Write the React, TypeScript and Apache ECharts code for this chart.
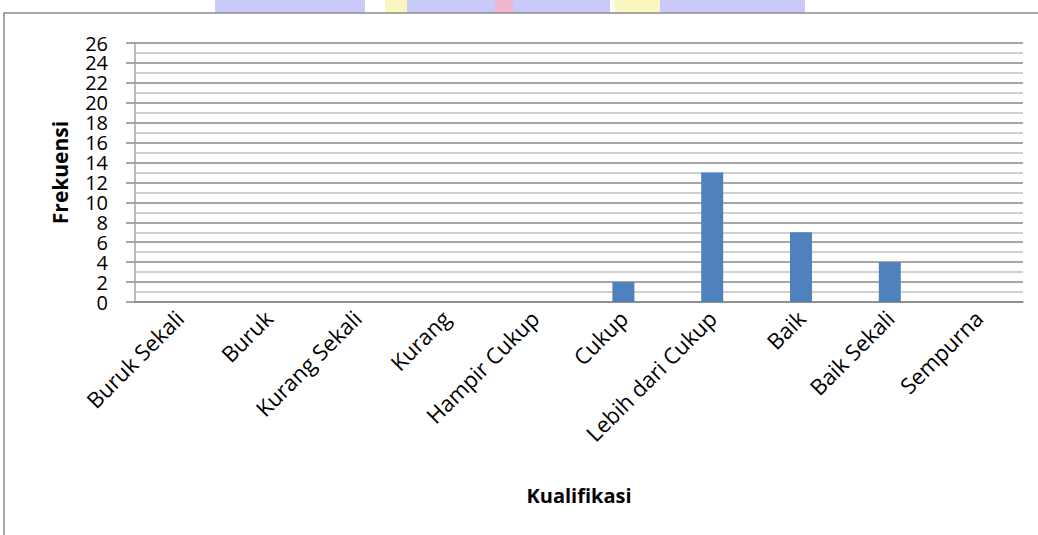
import React, { useEffect, useRef } from "react";
import * as echarts from "echarts";

const categories = [
  "Buruk Sekali",
  "Buruk",
  "Kurang Sekali",
  "Kurang",
  "Hampir Cukup",
  "Cukup",
  "Lebih dari Cukup",
  "Baik",
  "Baik Sekali",
  "Sempurna",
];
const frekuensi = [0, 0, 0, 0, 0, 2, 13, 7, 4, 0];
const yMax = 26;
const yInterval = 2;

const FONT = "'Open Sans', 'Noto Sans', sans-serif";

export default function App() {
  const ref = useRef<HTMLDivElement>(null);
  useEffect(() => {
    if (!ref.current) return;
    const chart = echarts.init(ref.current, null, { renderer: "svg" });
    chart.setOption({
      animation: false,
      backgroundColor: "#ffffff",
      textStyle: { fontFamily: FONT },
      graphic: [
        { type: "rect", shape: { x: 215, y: 0, width: 150, height: 13 }, style: { fill: "#c9c9fa" }, silent: true },
        { type: "rect", shape: { x: 385, y: 0, width: 22, height: 13 }, style: { fill: "#fbf5c0" }, silent: true },
        { type: "rect", shape: { x: 407, y: 0, width: 203, height: 13 }, style: { fill: "#c9c9fa" }, silent: true },
        { type: "rect", shape: { x: 495, y: 0, width: 18, height: 13 }, style: { fill: "#f0b8d0" }, silent: true },
        { type: "rect", shape: { x: 615, y: 0, width: 45, height: 13 }, style: { fill: "#fbf5c0" }, silent: true },
        { type: "rect", shape: { x: 660, y: 0, width: 145, height: 13 }, style: { fill: "#c9c9fa" }, silent: true },
        {
          type: "polyline",
          shape: { points: [[4, 535], [4, 13], [1038, 13]] },
          style: { stroke: "#8c8c8c", lineWidth: 1.5, fill: "none" },
          silent: true,
        },
      ],
      grid: {
        left: 135,
        right: 15,
        top: 43,
        bottom: 233,
        containLabel: false,
        outerBoundsMode: "none",
      },
      xAxis: {
        type: "category",
        data: categories,
        name: "Kualifikasi",
        nameLocation: "middle",
        nameGap: 183,
        nameMoveOverlap: false,
        nameTextStyle: {
          fontFamily: FONT,
          fontWeight: "bold",
          fontSize: 20,
          color: "#000",
        },
        axisLine: { show: true, lineStyle: { color: "#888888", width: 1.5 } },
        axisTick: { show: false },
        axisLabel: {
          rotate: 45,
          interval: 0,
          margin: 12,
          fontSize: 22,
          color: "#000",
          fontFamily: FONT,
          hideOverlap: false,
        },
      },
      yAxis: {
        type: "value",
        min: 0,
        max: yMax,
        interval: yInterval,
        name: "Frekuensi",
        nameLocation: "middle",
        nameGap: 65,
        nameRotate: 90,
        nameMoveOverlap: false,
        nameTextStyle: {
          fontFamily: FONT,
          fontWeight: "bold",
          fontSize: 21,
          color: "#000",
        },
        axisLine: { show: true, lineStyle: { color: "#a6a6a6", width: 1.5 } },
        axisTick: { show: true, inside: false, length: 9, lineStyle: { color: "#888888", width: 1.5 } },
        axisLabel: {
          margin: 27,
          fontSize: 20,
          color: "#000",
          fontFamily: FONT,
          hideOverlap: false,
        },
        splitLine: { show: true, lineStyle: { color: "#888888", width: 1.5 } },
        minorTick: { show: false, splitNumber: 2 },
        minorSplitLine: { show: true, lineStyle: { color: "#c0c0c0", width: 1.5 } },
      },
      series: [
        {
          type: "bar",
          data: frekuensi,
          barWidth: 22,
          itemStyle: { color: "#4f81bd" },
        },
      ],
    });
    return () => chart.dispose();
  }, []);
  return (
    <div
      ref={ref}
      style={{ position: "fixed", left: 0, top: 0, width: 1038, height: 535 }}
    />
  );
}
